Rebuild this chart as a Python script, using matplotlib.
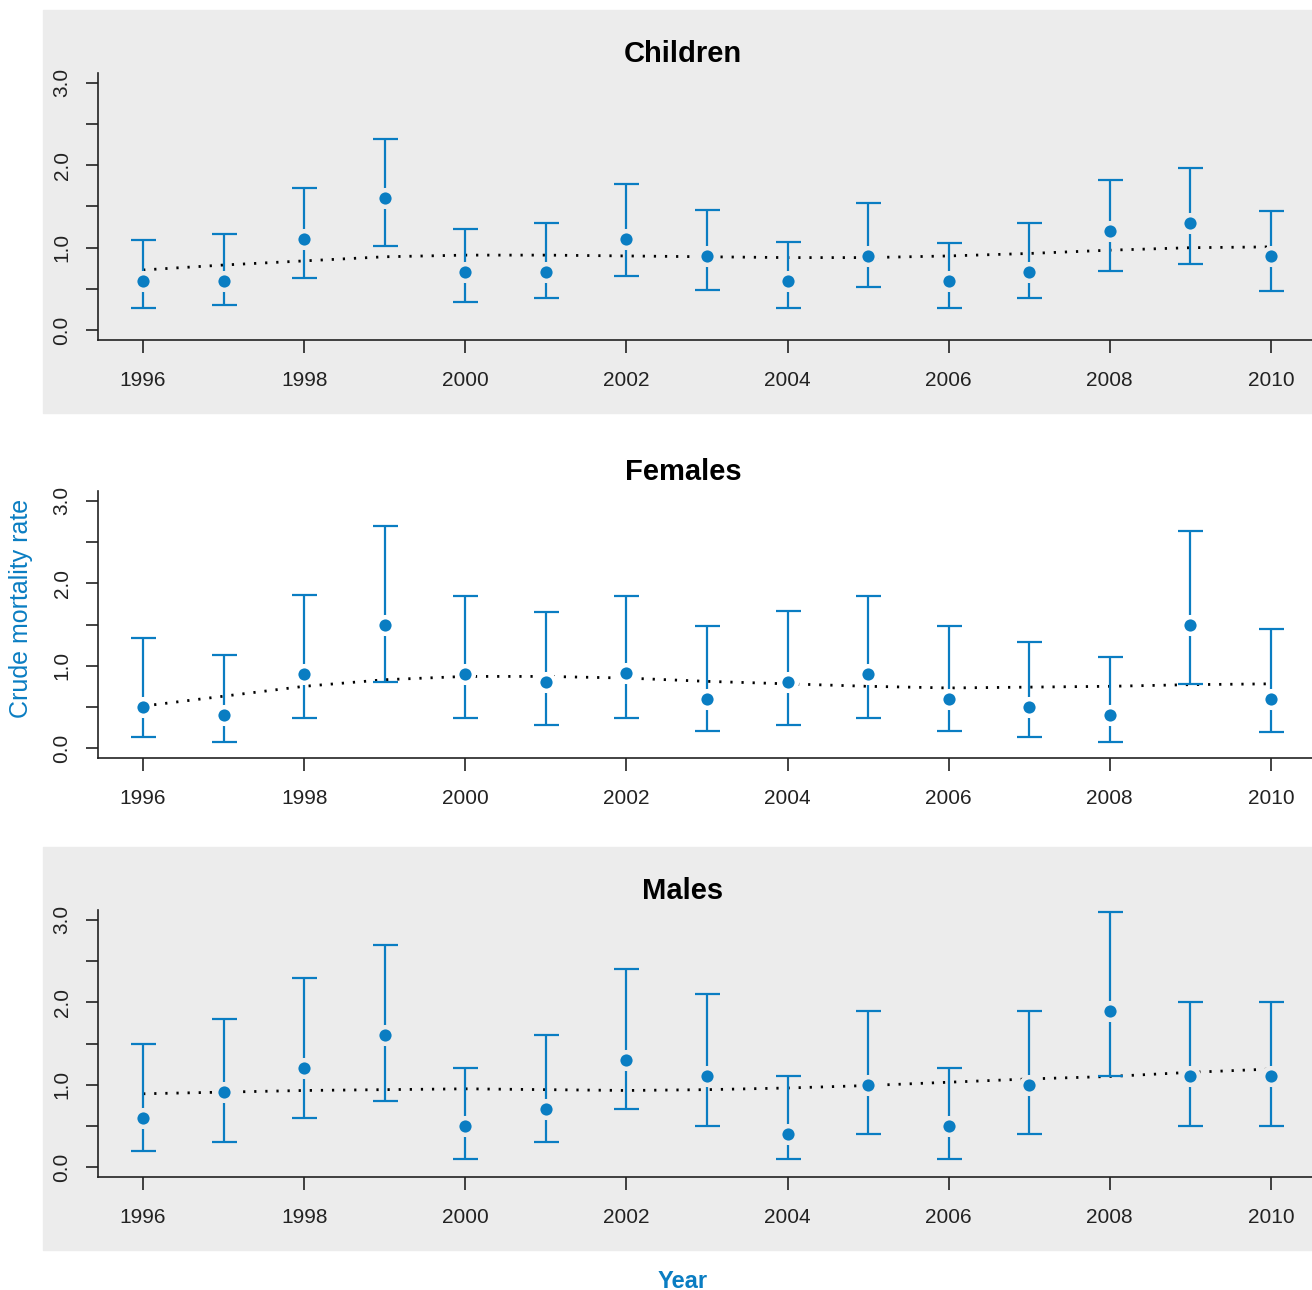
import numpy as np
import matplotlib
matplotlib.use("Agg")
import matplotlib.pyplot as plt
from matplotlib.patches import Rectangle

plt.rcParams['font.family'] = ['Liberation Sans', 'DejaVu Sans']

years = list(range(1996, 2011))
groups = ["Children", "Females", "Males"]

# crude rate with lower / upper interval bounds and the smoothed trend
children_rate = [0.6, 0.6, 1.1, 1.6, 0.7, 0.7, 1.1, 0.9, 0.6, 0.9, 0.6, 0.7, 1.2, 1.3, 0.9]
children_low = [0.27, 0.30, 0.63, 1.02, 0.34, 0.39, 0.66, 0.49, 0.27, 0.52, 0.27, 0.39, 0.72, 0.80, 0.47]
children_high = [1.09, 1.17, 1.72, 2.32, 1.23, 1.30, 1.77, 1.46, 1.07, 1.54, 1.06, 1.30, 1.82, 1.97, 1.45]
children_trend = [0.73, 0.79, 0.84, 0.89, 0.91, 0.91, 0.90, 0.89, 0.88, 0.88, 0.90, 0.93, 0.97, 1.00, 1.01]

females_rate = [0.5, 0.4, 0.9, 1.5, 0.9, 0.8, 0.91, 0.6, 0.8, 0.9, 0.6, 0.5, 0.4, 1.5, 0.6]
females_low = [0.13, 0.07, 0.36, 0.80, 0.36, 0.28, 0.36, 0.21, 0.28, 0.36, 0.21, 0.13, 0.07, 0.78, 0.19]
females_high = [1.34, 1.13, 1.86, 2.70, 1.85, 1.65, 1.84, 1.48, 1.66, 1.85, 1.48, 1.29, 1.11, 2.64, 1.45]
females_trend = [0.51, 0.63, 0.75, 0.83, 0.87, 0.87, 0.85, 0.81, 0.78, 0.75, 0.73, 0.74, 0.75, 0.77, 0.78]

males_rate = [0.6, 0.91, 1.2, 1.6, 0.5, 0.7, 1.3, 1.1, 0.4, 1.0, 0.5, 1.0, 1.9, 1.1, 1.1]
males_low = [0.2, 0.3, 0.6, 0.8, 0.1, 0.3, 0.7, 0.5, 0.1, 0.4, 0.1, 0.4, 1.1, 0.5, 0.5]
males_high = [1.5, 1.8, 2.3, 2.7, 1.2, 1.6, 2.4, 2.1, 1.1, 1.9, 1.2, 1.9, 3.1, 2.0, 2.0]
males_trend = [0.89, 0.91, 0.93, 0.94, 0.95, 0.94, 0.93, 0.94, 0.96, 0.99, 1.03, 1.07, 1.10, 1.15, 1.19]

rates = [children_rate, females_rate, males_rate]
lows = [children_low, females_low, males_low]
highs = [children_high, females_high, males_high]
trends = [children_trend, females_trend, males_trend]

blue = "#0a7dc2"
grey = "#ececec"
W, H = 1312, 1290

fig = plt.figure(figsize=(W / 100, H / 100), dpi=100)

# shaded strips behind the first and last panel
for top in (10, 847):
    fig.patches.append(Rectangle((43 / W, 1 - (top + 403) / H), (W - 43) / W, 403 / H,
                                 transform=fig.transFigure, color=grey, zorder=-5))

axis_bottoms = [340, 758, 1177]
title_y = [54, 472, 891]
for i, name in enumerate(groups):
    bg = grey if i != 1 else "white"
    ax = fig.add_axes([98 / W, 1 - axis_bottoms[i] / H, 1218 / W, 267 / H])
    ax.set_zorder(1)
    ax.patch.set_visible(False)
    x = np.array(years)
    r = np.array(rates[i])
    lo = np.array(lows[i])
    hi = np.array(highs[i])
    ax.plot(x, trends[i], color="black", lw=2, linestyle=(0, (0.8, 3.2)), zorder=2)
    ax.errorbar(x, r, yerr=[r - lo, hi - r], fmt="none", ecolor=blue, elinewidth=1.6,
                capsize=9, capthick=1.6, zorder=3)
    ax.plot(x, r, "o", color=blue, markersize=12, markeredgecolor=bg,
            markeredgewidth=3.2, zorder=4)

    ax.set_xlim(1995.44, 2010.56)
    ax.set_ylim(-0.12, 3.12)
    ax.set_xticks(range(1996, 2011, 2))
    ax.set_yticks([0, 1, 2, 3])
    ax.set_yticklabels(["0.0", "1.0", "2.0", "3.0"], rotation=90, va="center")
    ax.set_yticks([0.5, 1.5, 2.5], minor=True)
    ax.tick_params(axis="x", which="major", length=9, width=1.2, pad=13,
                   labelsize=15, colors="#222222")
    ax.tick_params(axis="y", which="both", length=9, width=1.2, pad=10,
                   labelsize=15, colors="#222222")
    for s in ("top", "right"):
        ax.spines[s].set_visible(False)
    for s in ("left", "bottom"):
        ax.spines[s].set_linewidth(1.2)
        ax.spines[s].set_color("#222222")

    fig.text(683 / W, 1 - title_y[i] / H, name, ha="center", va="center",
             fontsize=21, fontweight="bold")

fig.text(21 / W, 1 - 608 / H, "Crude mortality rate", rotation=90, ha="center",
         va="center", fontsize=18, color=blue)
fig.text(683 / W, 1 - 1281 / H, "Year", ha="center", va="center", fontsize=17,
         fontweight="bold", color=blue)

fig.savefig("out.png", dpi=100)
